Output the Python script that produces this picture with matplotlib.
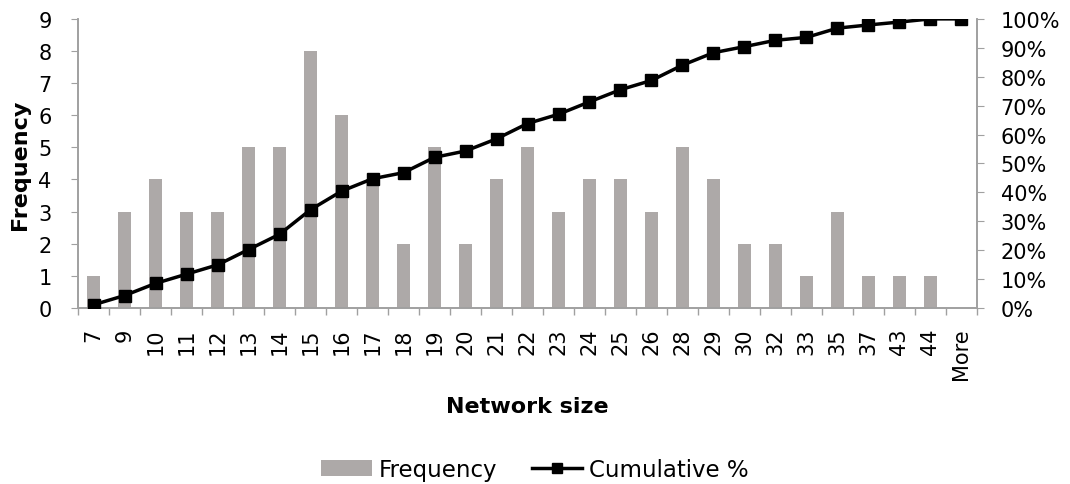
import matplotlib
matplotlib.use("Agg")
import matplotlib.pyplot as plt
from matplotlib.patches import Patch
from matplotlib.lines import Line2D
import numpy as np

# histogram of network sizes with cumulative percentage (Excel style)
categories = ["7", "9", "10", "11", "12", "13", "14", "15", "16", "17", "18", "19", "20",
              "21", "22", "23", "24", "25", "26", "28", "29", "30", "32", "33", "35",
              "37", "43", "44", "More"]
frequency = [1, 3, 4, 3, 3, 5, 5, 8, 6, 4, 2, 5, 2, 4, 5, 3, 4, 4, 3, 5, 4, 2, 2, 1, 3,
             1, 1, 1, 0]
cumulative_pct = [0.011, 0.043, 0.085, 0.117, 0.149, 0.202, 0.255, 0.340, 0.404, 0.447,
                  0.468, 0.521, 0.543, 0.585, 0.638, 0.670, 0.713, 0.755, 0.787, 0.840,
                  0.883, 0.904, 0.926, 0.936, 0.968, 0.979, 0.989, 1.0, 1.0]

bar_col = "#ADA9A8"
axis_col = "#A0A0A0"
plt.rcParams["font.family"] = "DejaVu Sans"

fig = plt.figure(figsize=(10.7, 4.85), dpi=100)
ax = fig.add_axes([0.073, 0.363, 0.840, 0.596])
ax2 = ax.twinx()

x = np.arange(len(categories))
ax.bar(x, frequency, width=0.43, color=bar_col, zorder=2)
ax2.plot(x, cumulative_pct, color="black", lw=2.5, marker="s", markersize=8, zorder=3)

ax.set_xlim(-0.5, len(categories) - 0.5)
ax.set_ylim(0, 9)
ax2.set_ylim(0, 1)
ax.set_yticks(np.arange(0, 10, 1))
ax2.set_yticks(np.arange(0, 1.01, 0.1))
ax2.set_yticklabels([f"{int(round(v * 100))}%" for v in np.arange(0, 1.01, 0.1)])

ax.set_xticks(x)
ax.set_xticklabels(categories, rotation=90)
ax.set_xticks(np.arange(-0.5, len(categories), 1), minor=True)
ax.tick_params(axis="x", which="major", length=0, labelsize=15, pad=14)
ax.tick_params(axis="x", which="minor", length=5, color=axis_col, width=1)
ax.tick_params(axis="y", length=5, color=axis_col, labelsize=15, pad=14)
ax2.tick_params(axis="y", length=5, color=axis_col, labelsize=15, pad=12)

for a in [ax, ax2]:
    a.spines["top"].set_visible(False)
    for s in ["left", "right", "bottom"]:
        a.spines[s].set_color(axis_col)
        a.spines[s].set_linewidth(1.2)
ax.set_zorder(ax2.get_zorder() - 1)
ax2.patch.set_visible(False)
ax.patch.set_visible(False)

ax.set_ylabel("Frequency", fontsize=16, fontweight="bold", labelpad=6)
ax.set_xlabel("Network size", fontsize=16, fontweight="bold", labelpad=12)

handles = [Patch(facecolor=bar_col, edgecolor="none"),
           Line2D([0], [0], color="black", lw=2.5, marker="s", markersize=7)]
fig.legend(handles, ["Frequency", "Cumulative %"], loc="center",
           bbox_to_anchor=(0.5, 0.03), ncol=2, frameon=False, fontsize=16.5,
           handlelength=2.2, columnspacing=1.5, handletextpad=0.3)

fig.savefig("out.png", dpi=100)
